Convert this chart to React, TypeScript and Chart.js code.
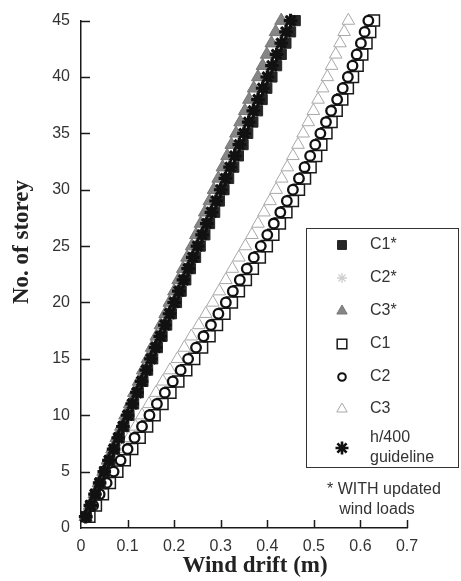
import React, { useEffect, useRef } from 'react';
import { Chart, registerables } from 'chart.js';
import { drawPoint } from 'chart.js/helpers';

Chart.register(...registerables);

// ---------- data ----------
const STOREYS = [1, 2, 3, 4, 5, 6, 7, 8, 9, 10, 11, 12, 13, 14, 15, 16, 17, 18, 19, 20, 21, 22, 23, 24, 25, 26, 27, 28, 29, 30, 31, 32, 33, 34, 35, 36, 37, 38, 39, 40, 41, 42, 43, 44, 45];

const C1_STAR = [0.011, 0.021, 0.031, 0.041, 0.051, 0.062, 0.072, 0.082, 0.092, 0.103, 0.113, 0.123, 0.133, 0.143, 0.154, 0.164, 0.174, 0.184, 0.194, 0.205, 0.215, 0.225, 0.235, 0.246, 0.256, 0.266, 0.276, 0.287, 0.297, 0.307, 0.317, 0.328, 0.338, 0.348, 0.358, 0.369, 0.379, 0.389, 0.399, 0.410, 0.420, 0.430, 0.440, 0.450, 0.460];
const C2_STAR = [0.010, 0.020, 0.029, 0.039, 0.049, 0.059, 0.068, 0.078, 0.088, 0.098, 0.107, 0.117, 0.127, 0.137, 0.146, 0.156, 0.166, 0.176, 0.185, 0.195, 0.205, 0.215, 0.224, 0.234, 0.244, 0.254, 0.263, 0.273, 0.283, 0.293, 0.302, 0.312, 0.322, 0.332, 0.341, 0.351, 0.361, 0.371, 0.380, 0.390, 0.400, 0.410, 0.419, 0.429, 0.439];
const C3_STAR = [0.010, 0.019, 0.029, 0.038, 0.048, 0.057, 0.067, 0.076, 0.086, 0.095, 0.105, 0.114, 0.124, 0.133, 0.143, 0.152, 0.162, 0.171, 0.181, 0.190, 0.200, 0.209, 0.219, 0.228, 0.238, 0.247, 0.257, 0.266, 0.276, 0.285, 0.295, 0.304, 0.314, 0.323, 0.333, 0.342, 0.352, 0.361, 0.371, 0.380, 0.390, 0.399, 0.409, 0.418, 0.430];
const C1 = [0.018, 0.032, 0.047, 0.062, 0.078, 0.094, 0.110, 0.126, 0.142, 0.158, 0.175, 0.192, 0.209, 0.226, 0.243, 0.260, 0.276, 0.292, 0.308, 0.324, 0.339, 0.354, 0.369, 0.384, 0.399, 0.413, 0.427, 0.441, 0.455, 0.468, 0.481, 0.493, 0.505, 0.516, 0.527, 0.538, 0.549, 0.561, 0.573, 0.584, 0.594, 0.604, 0.613, 0.621, 0.629];
const C2 = [0.012, 0.026, 0.040, 0.055, 0.070, 0.085, 0.100, 0.115, 0.131, 0.147, 0.163, 0.180, 0.197, 0.214, 0.230, 0.247, 0.263, 0.279, 0.295, 0.311, 0.326, 0.341, 0.356, 0.371, 0.386, 0.400, 0.414, 0.428, 0.442, 0.455, 0.468, 0.480, 0.492, 0.503, 0.514, 0.526, 0.537, 0.550, 0.562, 0.573, 0.583, 0.592, 0.601, 0.609, 0.617];
const C3 = [0.010, 0.023, 0.036, 0.049, 0.062, 0.075, 0.089, 0.103, 0.117, 0.131, 0.146, 0.161, 0.176, 0.191, 0.207, 0.222, 0.237, 0.253, 0.268, 0.283, 0.297, 0.311, 0.325, 0.339, 0.353, 0.367, 0.380, 0.393, 0.406, 0.419, 0.431, 0.443, 0.455, 0.466, 0.477, 0.488, 0.499, 0.509, 0.519, 0.529, 0.538, 0.547, 0.556, 0.565, 0.574];
const H400 = [0.01, 0.02, 0.03, 0.04, 0.05, 0.06, 0.07, 0.08, 0.09, 0.10, 0.11, 0.12, 0.13, 0.14, 0.15, 0.16, 0.17, 0.18, 0.19, 0.20, 0.21, 0.22, 0.23, 0.24, 0.25, 0.26, 0.27, 0.28, 0.29, 0.30, 0.31, 0.32, 0.33, 0.34, 0.35, 0.36, 0.37, 0.38, 0.39, 0.40, 0.41, 0.42, 0.43, 0.44, 0.45];

const X_TICKS = [0, 0.1, 0.2, 0.3, 0.4, 0.5, 0.6, 0.7];
const X_TICK_LABELS = ['0', '0.1', '0.2', '0.3', '0.4', '0.5', '0.6', '0.7'];
const Y_TICKS = [0, 5, 10, 15, 20, 25, 30, 35, 40, 45];

const X_TITLE = 'Wind drift (m)';
const Y_TITLE = 'No. of storey';
const NOTE_LINES = ['* WITH updated', 'wind loads'];

// ---------- styles ----------
type Series = {
  label: string[];
  values: number[];
  pointStyle: string;
  radius: number;
  fill: string;
  stroke: string;
  width: number;
  order: number;
  legendRadius: number;
  legendWidth: number;
};

const SERIES: Series[] = [
  { label: ['C1*'], values: C1_STAR, pointStyle: 'rect', radius: 7.2, fill: '#262626', stroke: '#262626', width: 1, order: 1, legendRadius: 6.3, legendWidth: 1 },
  { label: ['C2*'], values: C2_STAR, pointStyle: 'star', radius: 5.5, fill: '#d8d8d8', stroke: '#cfcfcf', width: 1.5, order: 3, legendRadius: 5, legendWidth: 1.3 },
  { label: ['C3*'], values: C3_STAR, pointStyle: 'triangle', radius: 7.5, fill: '#858585', stroke: '#777777', width: 1, order: 2, legendRadius: 6, legendWidth: 1 },
  { label: ['C1'], values: C1, pointStyle: 'rect', radius: 7.8, fill: '#ffffff', stroke: '#1a1a1a', width: 1.5, order: 5, legendRadius: 6.8, legendWidth: 1.5 },
  { label: ['C2'], values: C2, pointStyle: 'circle', radius: 4.8, fill: '#ffffff', stroke: '#111111', width: 2.3, order: 4, legendRadius: 3.8, legendWidth: 2 },
  { label: ['C3'], values: C3, pointStyle: 'triangle', radius: 7.3, fill: 'rgba(255,255,255,0)', stroke: '#a8a8a8', width: 1, order: 6, legendRadius: 6, legendWidth: 1 },
  { label: ['h/400', 'guideline'], values: H400, pointStyle: 'star', radius: 6.8, fill: '#111111', stroke: '#111111', width: 3.2, order: 0, legendRadius: 6.5, legendWidth: 2.6 },
];

const AXIS_COLOR = '#1a1a1a';
const TEXT_COLOR = '#333333';
const SANS = '"Liberation Sans", Arial, sans-serif';
const SERIF = '"Liberation Serif", "Times New Roman", serif';

const overlayPlugin = {
  id: 'overlay',
  beforeDatasetsDraw(chart: any) {
    const { ctx, chartArea, scales } = chart;
    const x = scales.x;
    const y = scales.y;
    ctx.save();
    ctx.strokeStyle = AXIS_COLOR;
    ctx.lineWidth = 1.5;
    ctx.beginPath();
    X_TICKS.forEach((v) => {
      if (v === 0) return;
      const px = Math.round(x.getPixelForValue(v)) + 0.5;
      ctx.moveTo(px, chartArea.bottom);
      ctx.lineTo(px, chartArea.bottom - 8);
    });
    Y_TICKS.forEach((v) => {
      if (v === 0) return;
      const py = Math.round(y.getPixelForValue(v)) + 0.5;
      ctx.moveTo(chartArea.left, py);
      ctx.lineTo(chartArea.left + 9, py);
    });
    ctx.stroke();
    ctx.restore();
  },
  afterDraw(chart: any) {
    const { ctx } = chart;
    ctx.save();
    // axis titles
    ctx.fillStyle = '#222';
    ctx.font = `bold 23px ${SERIF}`;
    ctx.textAlign = 'center';
    ctx.textBaseline = 'middle';
    ctx.fillText(X_TITLE, 255, 566);
    ctx.save();
    ctx.translate(22, 242);
    ctx.rotate(-Math.PI / 2);
    ctx.fillText(Y_TITLE, 0, 0);
    ctx.restore();

    // legend box
    const boxL = 306.5, boxT = 228.5, boxR = 458.5, boxB = 467.5;
    ctx.fillStyle = '#ffffff';
    ctx.fillRect(boxL, boxT, boxR - boxL, boxB - boxT);
    ctx.strokeStyle = '#333';
    ctx.lineWidth = 1;
    ctx.strokeRect(boxL, boxT, boxR - boxL, boxB - boxT);

    const rowsY = [245, 278, 311, 344, 377, 409, 448];
    const markerX = 342;
    const textX = 370;
    ctx.font = `16px ${SANS}`;
    ctx.textAlign = 'left';
    ctx.textBaseline = 'middle';
    SERIES.forEach((s, i) => {
      const cy = rowsY[i];
      ctx.fillStyle = s.fill;
      ctx.strokeStyle = s.stroke;
      ctx.lineWidth = s.legendWidth;
      drawPoint(ctx, { pointStyle: s.pointStyle as any, radius: s.legendRadius, rotation: 0, borderWidth: s.legendWidth }, markerX, cy);
      ctx.fillStyle = TEXT_COLOR;
      if (s.label.length === 1) {
        ctx.fillText(s.label[0], textX, cy);
      } else {
        ctx.fillText(s.label[0], textX, cy - 10);
        ctx.fillText(s.label[1], textX, cy + 10);
      }
    });

    // note
    ctx.fillStyle = TEXT_COLOR;
    ctx.textAlign = 'center';
    ctx.fillText(NOTE_LINES[0], 384, 490);
    ctx.fillText(NOTE_LINES[1], 377, 510);
    ctx.restore();
  },
};

export default function App() {
  const canvasRef = useRef<HTMLCanvasElement | null>(null);

  useEffect(() => {
    document.body.style.margin = '0';
    const canvas = canvasRef.current;
    if (!canvas) return;
    const datasets = SERIES.map((s) => ({
      label: s.label.join(' '),
      data: s.values.map((v, i) => ({ x: v, y: STOREYS[i] })),
      showLine: false,
      pointStyle: s.pointStyle,
      pointRadius: s.radius,
      pointBackgroundColor: s.fill,
      pointBorderColor: s.stroke,
      pointBorderWidth: s.width,
      backgroundColor: s.fill,
      borderColor: s.stroke,
      order: s.order,
      clip: false as any,
    }));

    const chart = new Chart(canvas, {
      type: 'scatter',
      data: { datasets: datasets as any },
      options: {
        animation: false,
        responsive: false,
        maintainAspectRatio: false,
        devicePixelRatio: 1,
        events: [],
        layout: { padding: { left: 0, right: 54, top: 19, bottom: 0 } },
        plugins: {
          legend: { display: false },
          tooltip: { enabled: false },
        },
        scales: {
          x: {
            type: 'linear',
            min: 0,
            max: 0.7,
            afterBuildTicks: (scale: any) => {
              scale.ticks = X_TICKS.map((v) => ({ value: v }));
            },
            ticks: {
              font: { family: SANS, size: 16 },
              color: TEXT_COLOR,
              padding: 9,
              maxRotation: 0,
              autoSkip: false,
              callback: (_v: any, i: number) => X_TICK_LABELS[i],
            },
            grid: { display: false, drawTicks: false },
            border: { display: true, color: AXIS_COLOR, width: 1.5 },
            afterFit: (scale: any) => {
              scale.height = 53;
            },
          },
          y: {
            type: 'linear',
            min: 0,
            max: 45,
            afterBuildTicks: (scale: any) => {
              scale.ticks = Y_TICKS.map((v) => ({ value: v }));
            },
            ticks: {
              font: { family: SANS, size: 16 },
              color: TEXT_COLOR,
              padding: 11,
              autoSkip: false,
            },
            grid: { display: false, drawTicks: false },
            border: { display: true, color: AXIS_COLOR, width: 1.5 },
            afterFit: (scale: any) => {
              scale.width = 81;
            },
          },
        },
      },
      plugins: [overlayPlugin],
    });
    return () => chart.destroy();
  }, []);

  return (
    <div style={{ width: 461, height: 581, position: 'relative', background: '#fff' }}>
      <canvas ref={canvasRef} width={461} height={581} style={{ display: 'block', width: 461, height: 581 }} />
    </div>
  );
}
